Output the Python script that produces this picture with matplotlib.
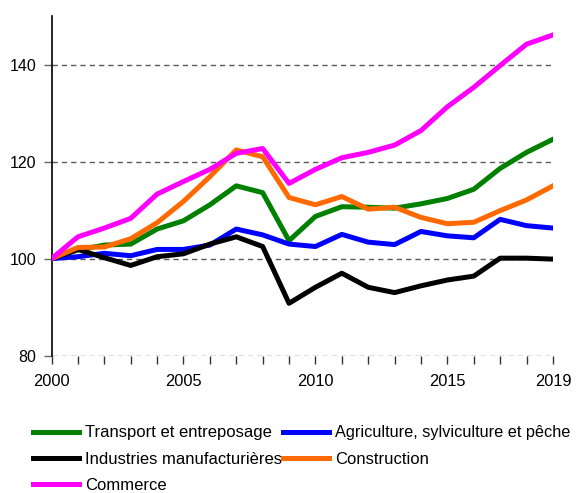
import matplotlib.pyplot as plt
import matplotlib
matplotlib.use('Agg')

plt.rcParams['font.family'] = ['Liberation Sans', 'DejaVu Sans']

years = list(range(2000, 2020))

transport = [100, 101.8, 102.8, 103.0, 106.1, 107.8, 111.1, 115.0, 113.6, 103.7,
             108.7, 110.7, 110.6, 110.4, 111.3, 112.4, 114.3, 118.6, 121.9, 124.6]
agriculture = [100, 100.4, 101.1, 100.6, 101.9, 101.9, 102.8, 106.1, 104.9, 103.0,
               102.5, 105.0, 103.4, 102.9, 105.6, 104.7, 104.3, 108.1, 106.8, 106.3]
industries = [100, 101.9, 100.2, 98.6, 100.4, 101.0, 103.0, 104.5, 102.5, 90.8,
              94.1, 97.0, 94.1, 93.0, 94.4, 95.6, 96.4, 100.1, 100.1, 99.9]
construction = [100, 102.3, 102.4, 104.1, 107.4, 111.8, 116.9, 122.4, 121.0, 112.6,
                111.1, 112.8, 110.2, 110.6, 108.5, 107.2, 107.5, 109.9, 112.1, 115.0]
commerce = [100, 104.5, 106.3, 108.3, 113.3, 115.9, 118.4, 121.7, 122.7, 115.5,
            118.4, 120.8, 121.9, 123.4, 126.4, 131.3, 135.3, 139.8, 144.2, 146.1]

fig = plt.figure(figsize=(5.79, 4.93), dpi=100)
ax = fig.add_axes([0.089, 0.2785, 0.866, 0.689])

for yv in [80, 100, 120, 140]:
    ax.axhline(yv, color='#5a5a5a', lw=1, ls=(0, (3.8, 2.9)), zorder=1)

lw = 3.6
ax.plot(years, transport, color='#008000', lw=lw, label='Transport et entreposage', zorder=3)
ax.plot(years, agriculture, color='#0000ff', lw=lw, label='Agriculture, sylviculture et pêche', zorder=3)
ax.plot(years, industries, color='#000000', lw=lw, label='Industries manufacturières', zorder=3)
ax.plot(years, construction, color='#ff6a00', lw=lw, label='Construction', zorder=3)
ax.plot(years, commerce, color='#ff00ff', lw=lw, label='Commerce', zorder=3)

ax.set_xlim(2000, 2019)
ax.set_ylim(80, 150)
ax.set_yticks([80, 100, 120, 140])
ax.set_xticks(years)
ax.set_xticklabels([str(y) if y in (2000, 2005, 2010, 2015, 2019) else '' for y in years])

for s in ['top', 'right', 'bottom']:
    ax.spines[s].set_visible(False)
ax.spines['left'].set_linewidth(1.2)

ax.tick_params(axis='x', length=6, width=1, color='#333333', pad=7, labelsize=11.8)
ax.tick_params(axis='y', length=6, width=1, color='#666666', pad=5, labelsize=11.5)

h, l = ax.get_legend_handles_labels()
order = [0, 2, 4, 1, 3]
leg = fig.legend([h[i] for i in order], [l[i] for i in order], ncol=2, frameon=False,
                 loc='upper left', bbox_to_anchor=(0.0575, 0.137), bbox_transform=fig.transFigure,
                 fontsize=12, handlelength=2.75, handletextpad=0.38, columnspacing=0.05,
                 labelspacing=0.68, borderaxespad=0, borderpad=0)
# le libellé long déborde sinon
leg.get_texts()[3].set_fontsize(11.7)

fig.savefig('out.png', dpi=100)
